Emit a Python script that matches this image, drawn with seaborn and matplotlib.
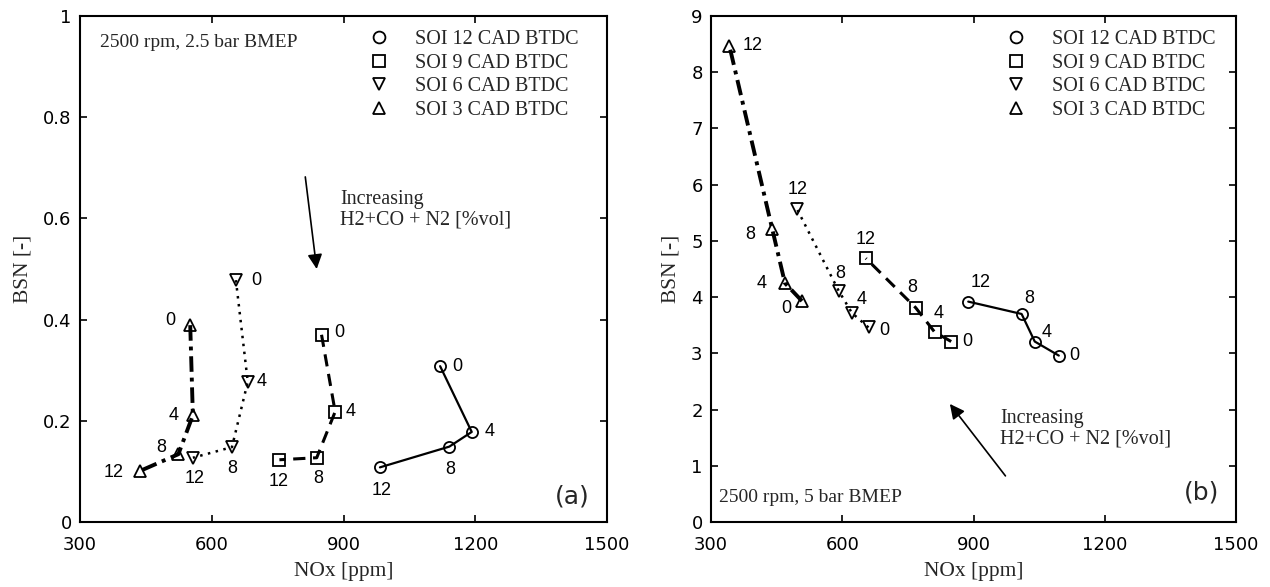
import matplotlib
matplotlib.use("Agg")
import matplotlib.pyplot as plt
from matplotlib.lines import Line2D
import seaborn as sns
import pandas as pd

# ---------------- data ----------------
h2_levels = [0, 4, 8, 12]  # H2+CO+N2 [%vol] labels next to points
series_names = ["SOI 12 CAD BTDC", "SOI 9 CAD BTDC", "SOI 6 CAD BTDC", "SOI 3 CAD BTDC"]

# panel (a) 2500 rpm, 2.5 bar BMEP
nox_a_soi12 = [1120, 1192, 1141, 983]
bsn_a_soi12 = [0.308, 0.178, 0.149, 0.108]
nox_a_soi9 = [850, 881, 839, 754]
bsn_a_soi9 = [0.370, 0.218, 0.127, 0.123]
nox_a_soi6 = [655, 682, 646, 557]
bsn_a_soi6 = [0.478, 0.277, 0.148, 0.127]
nox_a_soi3 = [551, 557, 524, 437]
bsn_a_soi3 = [0.389, 0.211, 0.134, 0.101]

# panel (b) 2500 rpm, 5 bar BMEP
nox_b_soi12 = [1095, 1040, 1010, 888]
bsn_b_soi12 = [2.96, 3.21, 3.70, 3.92]
nox_b_soi9 = [849, 811, 768, 654]
bsn_b_soi9 = [3.21, 3.38, 3.81, 4.69]
nox_b_soi6 = [660, 622, 592, 497]
bsn_b_soi6 = [3.46, 3.72, 4.11, 5.56]
nox_b_soi3 = [508, 469, 440, 342]
bsn_b_soi3 = [3.93, 4.25, 5.21, 8.47]

x_ticks = [300, 600, 900, 1200, 1500]
y_ticks_a = [0, 0.2, 0.4, 0.6, 0.8, 1]
y_tick_labels_a = ["0", "0.2", "0.4", "0.6", "0.8", "1"]
y_ticks_b = list(range(0, 10))

# ---------------- styles ----------------
markers = ["o", "s", "v", "^"]
msizes = [8, 8.5, 8.5, 8.5]
lstyles = ["-", (0, (4, 2.5)), (0, (1, 2.2)), (0, (4, 1.5, 1, 1.5))]
lwidths = [1.6, 2.2, 1.8, 2.8]

# label offsets (pixels, dx right, dy up) for points in order 0,4,8,12
offs_a = [
    [(17, 0), (18, 0), (1, -23), (2, -23)],
    [(18, 2), (15, 0), (2, -21), (-1, -22)],
    [(20, 0), (14, 0), (0, -21), (2, -21)],
    [(-20, 5), (-19, 0), (-17, 7), (-27, -2)],
]
offs_b = [
    [(16, 0), (12, 9), (8, 15), (12, 19)],
    [(16, 0), (4, 18), (-4, 20), (0, 19)],
    [(16, -3), (10, 13), (2, 17), (0, 20)],
    [(-16, -7), (-23, 0), (-22, -5), (23, 0)],
]

sns.set_theme(style="ticks")
plt.rcParams["font.family"] = ["DejaVu Sans"]
plt.rcParams["axes.linewidth"] = 1.5
plt.rcParams["xtick.direction"] = "in"
plt.rcParams["ytick.direction"] = "in"

serif = "Liberation Serif"
lab_font = "Liberation Sans"

fig = plt.figure(figsize=(12.7, 5.87), dpi=100)
fig.patch.set_facecolor("white")
ax1 = fig.add_axes([80 / 1270, 1 - 522 / 587, 527 / 1270, 506 / 587])
ax2 = fig.add_axes([711 / 1270, 1 - 522 / 587, 525 / 1270, 506 / 587])

data_a = [(nox_a_soi12, bsn_a_soi12), (nox_a_soi9, bsn_a_soi9),
          (nox_a_soi6, bsn_a_soi6), (nox_a_soi3, bsn_a_soi3)]
data_b = [(nox_b_soi12, bsn_b_soi12), (nox_b_soi9, bsn_b_soi9),
          (nox_b_soi6, bsn_b_soi6), (nox_b_soi3, bsn_b_soi3)]


def draw(ax, data, offs):
    for i, (xs, ys) in enumerate(data):
        df = pd.DataFrame({"nox": xs, "bsn": ys})
        sns.lineplot(data=df, x="nox", y="bsn", ax=ax, sort=False, estimator=None,
                     color="black", linestyle=lstyles[i], linewidth=lwidths[i],
                     marker=markers[i], markersize=msizes[i], markerfacecolor="none",
                     markeredgecolor="black", markeredgewidth=1.3)
        for j, lev in enumerate(h2_levels):
            ax.annotate(str(lev), (xs[j], ys[j]), xytext=offs[i][j],
                        textcoords="offset pixels", ha="center", va="center",
                        fontsize=13, family=lab_font, color="black")


draw(ax1, data_a, offs_a)
draw(ax2, data_b, offs_b)

for ax in (ax1, ax2):
    ax.set_xlim(300, 1500)
    ax.set_xticks(x_ticks)
    ax.set_xticklabels([str(t) for t in x_ticks])
    ax.tick_params(axis="both", which="both", direction="in", top=True, right=True,
                   length=5, width=1.2, labelsize=13, colors="black")
    ax.tick_params(axis="x", pad=10)
    ax.tick_params(axis="y", pad=6)
    ax.set_xlabel("NOx [ppm]", family=serif, fontsize=15.5, labelpad=6)
    ax.set_ylabel("BSN [-]", family=serif, fontsize=15.5, labelpad=8)
    for s in ax.spines.values():
        s.set_visible(True)
        s.set_color("black")
    handles = [Line2D([], [], ls="none", marker=m, markersize=8.5, markerfacecolor="none",
                      markeredgecolor="black", markeredgewidth=1.3) for m in markers]
    ax.legend(handles, series_names, frameon=False, prop={"family": serif, "size": 14.5},
              labelspacing=0.22, handletextpad=0.8, handlelength=2.0, borderpad=0,
              borderaxespad=0, loc="upper left",
              bbox_to_anchor=(0.529 if ax is ax1 else 0.543, 0.972))

ax1.set_ylim(0, 1)
ax1.set_yticks(y_ticks_a)
ax1.set_yticklabels(y_tick_labels_a)
ax2.set_ylim(0, 9)
ax2.set_yticks(y_ticks_b)
ax2.set_yticklabels([str(t) for t in y_ticks_b])

ax1.text(0.038, 0.947, "2500 rpm, 2.5 bar BMEP", transform=ax1.transAxes,
         family=serif, fontsize=14, ha="left", va="center")
ax2.text(0.015, 0.049, "2500 rpm, 5 bar BMEP", transform=ax2.transAxes,
         family=serif, fontsize=14, ha="left", va="center")
ax1.text(0.934, 0.05, "(a)", transform=ax1.transAxes, fontsize=18, ha="center", va="center")
ax2.text(0.935, 0.059, "(b)", transform=ax2.transAxes, fontsize=18, ha="center", va="center")

arrow = dict(arrowstyle="-|>", color="black", lw=1.2, mutation_scale=22, shrinkA=0, shrinkB=0)
ax1.annotate("", xy=(839, 0.50), xytext=(813, 0.682), arrowprops=arrow)
ax1.text(892, 0.617, "Increasing\nH2+CO + N2 [%vol]", family=serif, fontsize=14.5,
         ha="left", va="center", linespacing=1.05)
ax2.annotate("", xy=(846, 2.1), xytext=(973, 0.82), arrowprops=arrow)
ax2.text(961, 1.66, "Increasing\nH2+CO + N2 [%vol]", family=serif, fontsize=14.5,
         ha="left", va="center", linespacing=1.05)

fig.savefig("out.png", dpi=100, facecolor="white")
